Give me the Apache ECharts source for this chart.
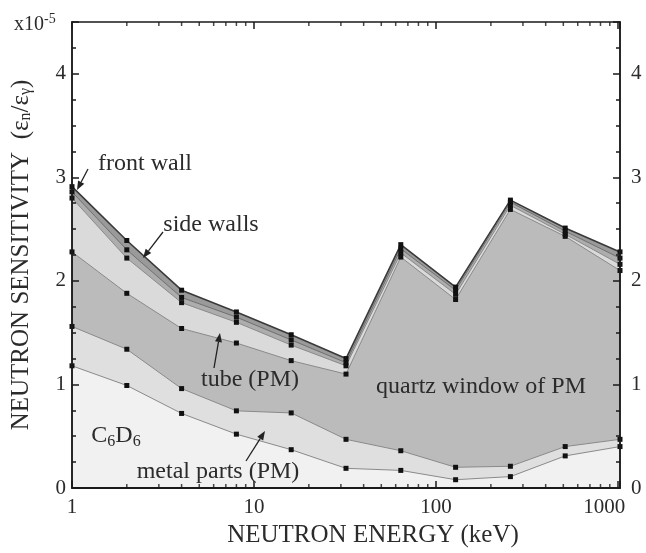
<!DOCTYPE html>
<html><head><meta charset="utf-8">
<script src="https://cdn.jsdelivr.net/npm/echarts@6/dist/echarts.min.js"></script>
<style>html,body{margin:0;padding:0;background:#fff}#c{width:646px;height:553px}</style>
</head><body><div id="c"></div>
<script>
// Neutron energy (keV)
const energy = [1, 2, 4, 8, 16, 32, 64, 128, 256, 512, 1024];
// Upper boundary of each contribution (cumulative), units of 1e-5
const c6d6Top   = [1.18, 0.99, 0.72, 0.52, 0.37, 0.19, 0.17, 0.08, 0.11, 0.31, 0.40];
const metalTop  = [1.56, 1.34, 0.96, 0.745, 0.725, 0.47, 0.36, 0.20, 0.21, 0.40, 0.47];
const quartzTop = [2.28, 1.88, 1.54, 1.40, 1.23, 1.10, 2.23, 1.82, 2.69, 2.43, 2.10];
const tubeTop   = [2.80, 2.22, 1.79, 1.60, 1.38, 1.18, 2.27, 1.87, 2.73, 2.45, 2.16];
const sideTop   = [2.86, 2.30, 1.84, 1.65, 1.43, 1.21, 2.31, 1.91, 2.76, 2.48, 2.22];
const frontTop  = [2.91, 2.39, 1.91, 1.70, 1.48, 1.25, 2.35, 1.94, 2.78, 2.51, 2.28];

// Tick values
const xMajorTicks = [1, 10, 100, 1000];
const xMinorTicks = [2,3,4,5,6,7,8,9,20,30,40,50,60,70,80,90,200,300,400,500,600,700,800,900];
const yMajorTicks = [0, 1, 2, 3, 4];

const FONT = 'Liberation Serif';
const TXT = '#2b2b2b';
const AX = '#1a1a1a';
const Y_MIN = 0, Y_MAX = 4.5;

function layer(name, top, fill, line, lw) {
  return {
    name, type: 'line', xAxisIndex: 0, yAxisIndex: 0,
    data: energy.map((e, i) => [e, top[i]]),
    symbol: 'rect', symbolSize: 5, showAllSymbol: true,
    itemStyle: { color: '#111' },
    lineStyle: { color: line, width: lw },
    areaStyle: { color: fill, opacity: 1, origin: 'start' },
    silent: true, animation: false, z: 2
  };
}

// minor ticks of the log x axis, placed through the axis scale
function minorTickSeries(yVal, dir) {
  return {
    type: 'scatter', xAxisIndex: 0, yAxisIndex: 0, z: 20, silent: true, clip: false,
    data: xMinorTicks.map(v => [v, yVal]),
    symbol: 'rect', symbolSize: [1.5, 4], symbolOffset: [0, dir * 2],
    itemStyle: { color: AX }, animation: false
  };
}

function xAx(pos, labels) {
  return {
    type: 'log', logBase: 10, min: 1, max: 1024, position: pos, z: 10,
    axisLine: { show: true, onZero: false, lineStyle: { color: AX, width: pos === 'bottom' ? 2 : 1.5 } },
    axisTick: { show: true, inside: true, length: 7, lineStyle: { color: AX, width: 1.5 } },
    axisLabel: labels ? {
      show: true, customValues: xMajorTicks, margin: 9,
      fontFamily: FONT, fontSize: 21, color: TXT,
      formatter: v => Math.abs(v - 1000) < 1 ? '{r|1000}' : (v > 1001 ? '' : String(Math.round(v))),
      rich: { r: { fontFamily: FONT, fontSize: 21, color: TXT, padding: [0, 28, 0, 0] } }
    } : { show: false },
    splitLine: { show: false },
    name: labels ? 'NEUTRON ENERGY (keV)' : '',
    nameLocation: 'middle', nameGap: 35,
    nameTextStyle: { fontFamily: FONT, fontSize: 25, color: TXT, padding: [0, 0, 0, 54] }
  };
}

function yAx(pos, major, labels) {
  const o = {
    type: 'value', min: Y_MIN, max: Y_MAX, interval: major ? 1 : 0.25, position: pos, z: 10,
    axisLine: { show: true, onZero: false, lineStyle: { color: AX, width: 1.5 } },
    axisTick: { show: true, inside: true, length: major ? 7 : 4, lineStyle: { color: AX, width: 1.5 } },
    axisLabel: labels ? { show: true, customValues: yMajorTicks, showMaxLabel: true, showMinLabel: true,
      margin: pos === 'left' ? 6 : 11,
      formatter: v => (v > 4.01 ? '' : String(v)),
      fontFamily: FONT, fontSize: 21, color: TXT } : { show: false },
    splitLine: { show: false }
  };
  if (labels && pos === 'left') {
    o.name = 'NEUTRON SENSITIVITY  (ε{sub|n}/ε{sub|γ})';
    o.nameLocation = 'middle';
    o.nameGap = 38;
    o.nameTextStyle = { fontFamily: FONT, fontSize: 25, color: TXT,
      rich: { sub: { fontFamily: FONT, fontSize: 16, color: TXT, padding: [10, 0, 0, 0] } } };
  }
  return o;
}

function arrow(x1, y1, x2, y2) {
  const dx = x2 - x1, dy = y2 - y1, L = Math.hypot(dx, dy);
  const ux = dx / L, uy = dy / L, hl = 9, hw = 3.5;
  const bx = x2 - ux * hl, by = y2 - uy * hl;
  return [
    { type: 'line', shape: { x1, y1, x2: bx, y2: by }, style: { stroke: '#222', lineWidth: 1.3 }, silent: true, z: 100 },
    { type: 'polygon', shape: { points: [[x2, y2], [bx - uy * hw, by + ux * hw], [bx + uy * hw, by - ux * hw]] },
      style: { fill: '#222' }, silent: true, z: 100 }
  ];
}

function label(text, x, y, rich) {
  return { type: 'text', x, y, silent: true, z: 100,
    style: { text, fontFamily: FONT, fontSize: 24, fill: TXT, align: 'center', verticalAlign: 'middle', rich: rich || {} } };
}

const chart = echarts.init(document.getElementById('c'), null, { renderer: 'canvas' });
chart.setOption({
  backgroundColor: '#fff',
  animation: false,
  grid: { left: 72, right: 26, top: 22, bottom: 60, containLabel: false },
  xAxis: [xAx('bottom', true), xAx('top', false)],
  yAxis: [yAx('left', true, true), yAx('left', false, false), yAx('right', true, true), yAx('right', false, false)],
  series: [
    layer('front wall', frontTop, '#9a9a9a', '#3a3a3a', 1.6),
    layer('side walls', sideTop, '#adadad', '#707070', 1),
    layer('tube (PM)', tubeTop, '#dadada', '#8a8a8a', 1),
    layer('quartz window of PM', quartzTop, '#bbbbbb', '#8a8a8a', 1),
    layer('metal parts (PM)', metalTop, '#dfdfdf', '#8a8a8a', 1),
    layer('C6D6', c6d6Top, '#f1f1f1', '#8a8a8a', 1),
    minorTickSeries(Y_MIN, -1),
    minorTickSeries(Y_MAX, 1)
  ],
  graphic: [
    { type: 'text', left: 14, top: 12, silent: true,
      style: { text: 'x10{sup|-5}', fontFamily: FONT, fontSize: 20, fill: TXT,
        rich: { sup: { fontFamily: FONT, fontSize: 14, fill: TXT, padding: [0, 0, 12, 0] } } } },
    label('front wall', 145, 164),
    label('side walls', 211, 225),
    label('tube (PM)', 250, 380),
    label('quartz window of PM', 481, 387),
    label('metal parts (PM)', 218, 472),
    label('C{s|6}D{s|6}', 116, 436, { s: { fontFamily: FONT, fontSize: 16, fill: TXT, padding: [12, 0, 0, 0] } }),
    ...arrow(88, 169, 77, 190),
    ...arrow(163, 232, 143, 258),
    ...arrow(214, 368, 220, 333),
    ...arrow(246, 461, 265, 431)
  ]
});
</script>
</body></html>
